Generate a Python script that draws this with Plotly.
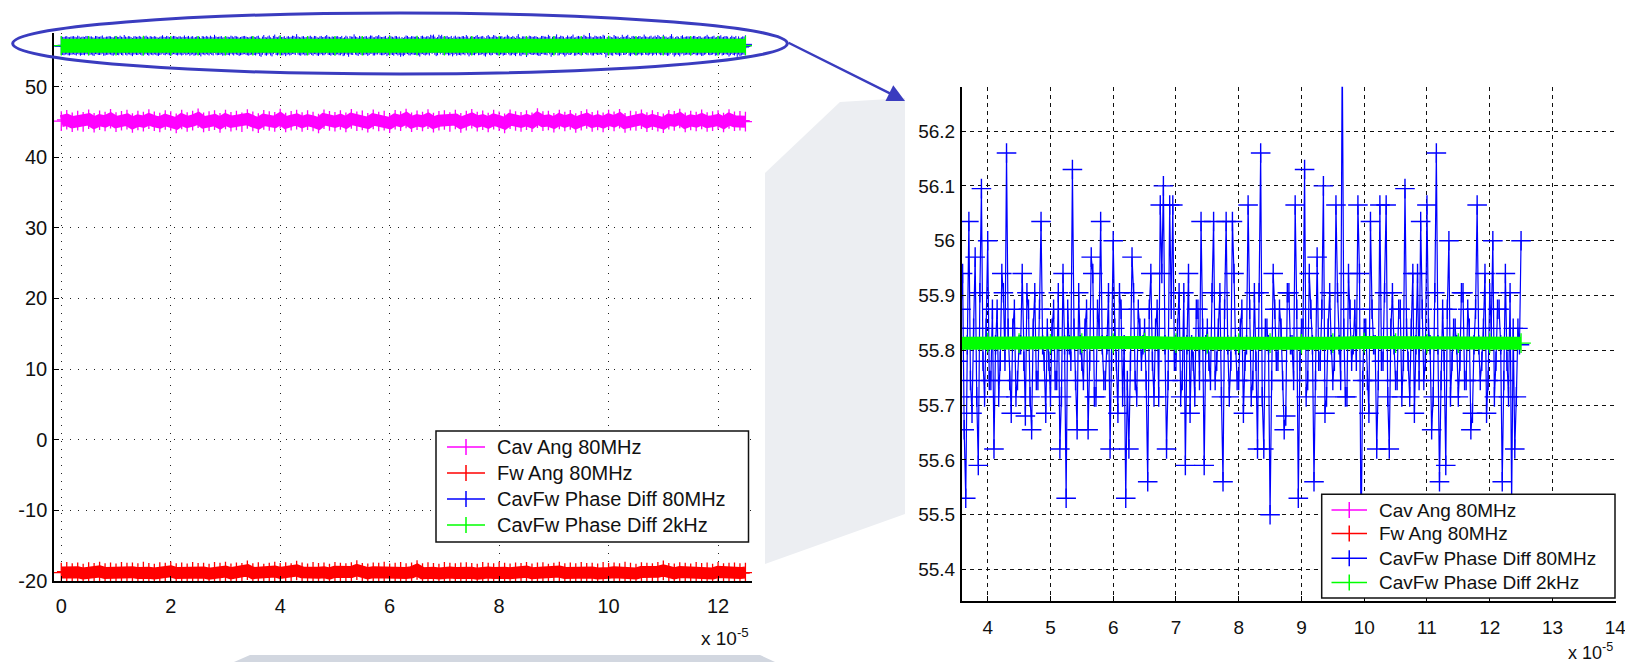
import numpy as np
import plotly.graph_objects as go

W, H = 1625, 662
FONT = "Liberation Sans, Arial, Helvetica, sans-serif"

# ---------------- data (time in units of 1e-5 s) ----------------
T_END = 12.5

cav_ang_80mhz = [
    45.13, 45.31, 44.96, 45.20, 45.02, 45.38, 44.90, 45.25, 45.08, 45.45, 44.98, 45.17, 45.33, 44.86,
    45.22, 45.05, 45.40, 45.10, 44.93, 45.28, 45.15, 44.80, 45.35, 45.00, 45.19, 45.52, 44.95, 45.12,
    45.27, 44.88, 45.36, 45.04, 45.21, 44.97, 45.42, 45.09, 44.84, 45.30, 45.14, 45.01, 45.48, 44.92,
    45.18, 45.34, 44.99, 45.26, 45.07, 44.78, 45.39, 45.16, 45.03, 45.29, 44.94, 45.44, 45.11, 45.23,
    44.89, 45.37, 45.06, 45.20, 44.83, 45.32, 45.13, 45.50, 44.96, 45.24, 45.08, 45.41, 44.91, 45.17,
    45.28, 45.00, 45.35, 44.87, 45.19, 45.46, 45.05, 45.25, 44.93, 45.33, 45.10, 44.81, 45.38, 45.15,
    45.02, 45.27, 44.97, 45.55, 45.12, 45.21, 44.90, 45.36, 45.06, 45.30, 44.85, 45.18, 45.43, 45.01,
    45.23, 44.95, 45.34, 45.09, 45.47, 44.88, 45.20, 45.14, 45.39, 44.98, 45.26, 45.04, 44.82, 45.31,
    45.16, 45.49, 44.94, 45.22, 45.07, 45.37, 45.00, 45.13, 45.29, 44.92, 45.42, 45.10, 45.18, 45.05,
]

fw_ang_80mhz = [
    -18.84, -18.72, -18.93, -18.80, -18.98, -18.76, -18.88, -18.69, -18.91, -18.82, -18.95, -18.74, -18.86, -18.79,
    -18.92, -18.70, -18.87, -18.97, -18.77, -18.85, -18.68, -18.90, -18.81, -18.96, -18.73, -18.89, -18.83, -18.99,
    -18.75, -18.86, -18.71, -18.94, -18.80, -18.88, -18.52, -18.92, -18.78, -18.97, -18.84, -18.70, -18.89, -18.76,
    -18.93, -18.55, -18.82, -18.95, -18.74, -18.87, -18.80, -18.98, -18.72, -18.85, -18.91, -18.77, -18.50, -18.88,
    -18.94, -18.79, -18.86, -18.71, -18.96, -18.83, -18.75, -18.90, -18.81, -18.48, -18.93, -18.78, -18.87, -18.97,
    -18.73, -18.85, -18.92, -18.80, -18.76, -18.89, -18.99, -18.74, -18.84, -18.91, -18.70, -18.86, -18.95, -18.79,
    -18.88, -18.72, -18.94, -18.82, -18.77, -18.97, -18.85, -18.71, -18.90, -18.80, -18.93, -18.75, -18.87, -18.83,
    -18.96, -18.74, -18.89, -18.79, -18.92, -18.70, -18.86, -18.98, -18.76, -18.84, -18.91, -18.73, -18.53, -18.88,
    -18.95, -18.78, -18.85, -18.94, -18.72, -18.87, -18.81, -18.97, -18.75, -18.90, -18.83, -18.79, -18.92, -18.84,
]

# CavFw Phase Diff 80MHz: samples at even positions (t = 0, 0.05, ... 12.5)
cavfw_diff_80mhz_even = [
    55.81, 55.745, 55.875, 55.715, 55.84, 55.78, 55.94, 55.685, 55.81, 55.905,
    55.745, 55.84, 55.655, 55.875, 55.78, 55.97, 55.715, 55.81, 55.84, 55.685,
    55.905, 55.745, 55.78, 56.035, 55.715, 55.84, 55.62, 55.875, 55.78, 55.81,
    55.745, 55.94, 55.685, 55.81, 55.875, 55.715, 55.78, 56.0, 55.745, 55.84,
    55.655, 55.905, 55.78, 55.84, 55.715, 55.97, 55.81, 55.685, 55.875, 55.745,
    55.81, 55.59, 55.84, 55.905, 55.715, 55.78, 56.065, 55.745, 55.81, 55.685,
    55.875, 55.78, 55.94, 55.715, 55.84, 55.655, 55.81, 55.905, 55.745, 55.78,
    55.84, 55.715, 55.94, 55.53, 56.035, 55.685, 55.97, 55.59, 56.095, 55.715,
    56.0, 55.745, 55.62, 55.875, 55.78, 55.905, 56.16, 55.745, 55.84, 55.715,
    55.81, 55.94, 55.68, 55.875, 55.655, 55.905, 55.745, 56.035, 55.78, 55.84,
    55.715, 55.875, 55.745, 55.62, 55.94, 55.53, 55.81, 56.13, 55.745, 55.905,
    55.78, 55.84, 55.655, 55.97, 55.715, 55.875, 56.035, 55.745, 55.81, 55.62,
    56.0, 55.78, 55.905, 55.715, 55.53, 55.62, 55.97, 55.745, 55.875, 55.78,
    55.84, 55.56, 55.94, 55.715, 55.875, 56.065, 56.1, 55.62, 56.065, 56.065,
    55.78, 55.905, 55.745, 55.59, 55.94, 55.81, 55.715, 55.875, 56.035, 55.59,
    55.84, 55.745, 56.035, 55.78, 55.905, 55.56, 56.035, 55.715, 56.035, 55.81,
    55.745, 55.875, 55.78, 56.065, 55.715, 55.905, 55.62, 56.16, 55.62, 55.84,
    55.50, 55.94, 55.78, 55.875, 55.745, 55.68, 55.905, 55.81, 56.065, 55.53,
    55.84, 56.13, 55.745, 55.875, 55.56, 55.97, 55.78, 56.1, 55.715, 55.905,
    55.745, 56.065, 55.81, 56.36, 55.715, 55.94, 55.78, 55.875, 56.065, 55.44,
    55.84, 55.745, 56.035, 55.81, 55.62, 56.065, 55.78, 56.065, 55.62, 55.905,
    55.745, 55.875, 55.715, 56.095, 55.78, 55.84, 55.685, 55.94, 56.035, 55.745,
    56.065, 55.81, 55.715, 56.16, 55.56, 55.875, 55.59, 56.0, 55.78, 55.84,
    55.715, 55.905, 55.745, 55.875, 55.655, 55.81, 56.065, 55.745, 55.84, 55.685,
    55.905, 56.0, 55.78, 55.875, 55.56, 55.94, 55.715, 55.52, 55.62, 55.84,
    56.0,
]

# CavFw Phase Diff 80MHz: samples at odd positions (in between the even ones)
cavfw_diff_80mhz_odd = [
    55.78, 55.84, 55.745, 55.81, 55.875, 55.715, 55.84, 55.78, 55.745, 55.875,
    55.81, 55.715, 55.905, 55.78, 55.84, 55.685, 55.81, 55.875, 55.745, 55.84,
    55.78, 55.94, 55.715, 55.81, 55.875, 55.745, 55.84, 55.78, 55.905, 55.715,
    55.84, 55.78, 55.875, 55.745, 55.81, 55.655, 55.84, 55.78, 55.905, 55.745,
    55.81, 55.875, 55.715, 55.84, 55.78, 55.745, 55.905, 55.81, 55.685, 55.84,
    55.78, 55.875, 55.745, 55.81, 55.94, 55.715, 55.84, 55.78, 55.875, 55.745,
    55.81, 55.715, 55.84, 55.905, 55.78, 55.745, 55.875, 55.81, 55.685, 55.84,
    55.78, 55.875, 55.655, 55.81, 55.745, 55.84, 55.715, 55.905, 55.78, 55.84,
    55.745, 55.875, 55.81, 55.715, 55.94, 55.78, 55.84, 55.685, 55.875, 55.745,
    55.81, 55.78, 55.905, 55.715, 55.84, 55.745, 55.875, 55.81, 55.685, 55.78,
    55.84, 55.745, 55.905, 55.715, 55.81, 55.875, 55.78, 55.84, 55.655, 55.81,
    55.745, 55.875, 55.78, 55.94, 55.715, 55.84, 55.81, 55.745, 55.905, 55.78,
    55.84, 55.685, 55.875, 55.81, 55.745, 55.78, 55.905, 55.715, 55.84, 55.81,
    55.745, 55.875, 55.78, 55.84, 55.715, 55.94, 55.81, 55.745, 55.875, 55.78,
    55.84, 55.715, 55.905, 55.81, 55.685, 55.78, 55.875, 55.745, 55.84, 55.81,
    55.78, 55.905, 55.745, 55.84, 55.715, 55.875, 55.81, 55.78, 55.94, 55.745,
    55.84, 55.685, 55.81, 55.875, 55.745, 55.78, 55.905, 55.715, 55.84, 55.81,
    55.745, 55.875, 55.78, 55.84, 55.655, 55.905, 55.81, 55.745, 55.875, 55.78,
    55.84, 55.715, 55.94, 55.81, 55.745, 55.78, 55.875, 55.685, 55.84, 55.81,
    55.78, 55.905, 55.745, 55.84, 55.715, 55.875, 55.81, 55.78, 55.94, 55.745,
    55.84, 55.685, 55.875, 55.81, 55.745, 55.78, 55.905, 55.715, 55.84, 55.81,
    55.745, 55.875, 55.78, 55.84, 55.715, 55.94, 55.81, 55.745, 55.875, 55.78,
    55.84, 55.655, 55.905, 55.81, 55.745, 55.78, 55.875, 55.715, 55.84, 55.81,
    55.78, 55.905, 55.745, 55.84, 55.685, 55.875, 55.81, 55.78, 55.94, 55.745,
    55.84, 55.715, 55.875, 55.81, 55.745, 55.78, 55.905, 55.84, 55.715, 55.81,
]

cavfw_diff_2khz = [
    55.813, 55.812, 55.813, 55.814, 55.813, 55.812, 55.813, 55.813, 55.814,
    55.813, 55.812, 55.813, 55.813, 55.814, 55.813, 55.812, 55.813, 55.813,
    55.812, 55.813, 55.814, 55.813, 55.812, 55.813, 55.813, 55.813,
]

series_names = ["Cav Ang 80MHz", "Fw Ang 80MHz", "CavFw Phase Diff 80MHz", "CavFw Phase Diff 2kHz"]
series_colors = ["#ff00ff", "#ff0000", "#0000ff", "#00ff00"]

left_xticks = [0, 2, 4, 6, 8, 10, 12]
left_yticks = [-20, -10, 0, 10, 20, 30, 40, 50]
left_yticklabels = ["-20", "-10", "0", "10", "20", "30", "40", "50"]
right_xticks = [4, 5, 6, 7, 8, 9, 10, 11, 12, 13, 14]
right_yticks = [55.4, 55.5, 55.6, 55.7, 55.8, 55.9, 56.0, 56.1, 56.2]
right_yticklabels = ["55.4", "55.5", "55.6", "55.7", "55.8", "55.9", "56", "56.1", "56.2"]

# full 80 MHz phase-difference record (even/odd samples merged in time order)
cavfw_diff_80mhz = []
for k, v in enumerate(cavfw_diff_80mhz_even):
    cavfw_diff_80mhz.append(v)
    if k < len(cavfw_diff_80mhz_odd):
        cavfw_diff_80mhz.append(cavfw_diff_80mhz_odd[k])


def tgrid(vals):
    return np.linspace(0.0, T_END, len(vals))


def px(x):
    return x / W


def py(y):
    return 1 - y / H


fig = go.Figure()


def cross(color, size=14, lw=1.3):
    return dict(symbol="cross-thin", size=size, line=dict(color=color, width=lw), color=color)


# ---------------- left (full view) ----------------
fig.add_trace(go.Scatter(x=tgrid(cav_ang_80mhz), y=cav_ang_80mhz, mode="lines+markers",
                         line=dict(color=series_colors[0], width=12), marker=cross(series_colors[0]),
                         xaxis="x", yaxis="y", showlegend=False, name=series_names[0]))
fig.add_trace(go.Scatter(x=tgrid(fw_ang_80mhz), y=fw_ang_80mhz, mode="lines+markers",
                         line=dict(color=series_colors[1], width=12), marker=cross(series_colors[1]),
                         xaxis="x", yaxis="y", showlegend=False, name=series_names[1]))
fig.add_trace(go.Scatter(x=tgrid(cavfw_diff_80mhz), y=cavfw_diff_80mhz, mode="lines+markers",
                         line=dict(color=series_colors[2], width=1), marker=cross(series_colors[2], 13, 1.0),
                         xaxis="x", yaxis="y", showlegend=False, name=series_names[2]))
fig.add_trace(go.Scatter(x=tgrid(cavfw_diff_2khz), y=cavfw_diff_2khz, mode="lines+markers",
                         line=dict(color=series_colors[3], width=14), marker=cross(series_colors[3]),
                         xaxis="x", yaxis="y", showlegend=False, name=series_names[3]))

# ---------------- right (zoomed view) ----------------
fig.add_trace(go.Scatter(x=tgrid(cavfw_diff_80mhz), y=cavfw_diff_80mhz, mode="lines+markers",
                         line=dict(color=series_colors[2], width=1.2), marker=cross(series_colors[2], 14, 1.4),
                         xaxis="x2", yaxis="y2", showlegend=False, name=series_names[2]))
fig.add_trace(go.Scatter(x=tgrid(cavfw_diff_2khz), y=cavfw_diff_2khz, mode="lines+markers",
                         line=dict(color=series_colors[3], width=13), marker=cross(series_colors[3]),
                         xaxis="x2", yaxis="y2", showlegend=False, name=series_names[3]))

tickfont_l = dict(family=FONT, size=20, color="#111")
tickfont_r = dict(family=FONT, size=19, color="#111")

common = dict(showline=True, linecolor="#000", linewidth=1.5, ticks="inside", ticklen=5,
              tickcolor="#000", zeroline=False, showgrid=True, gridwidth=1, mirror=False,
              ticklabeloverflow="allow", automargin=False)

fig.update_layout(
    width=W, height=H, autosize=False,
    margin=dict(l=0, r=0, t=0, b=0, pad=0),
    paper_bgcolor="#ffffff", plot_bgcolor="#ffffff",
    showlegend=False,
    xaxis=dict(domain=[px(54), px(752)], range=[-0.133, 12.62], tickvals=left_xticks,
               tickfont=tickfont_l, gridcolor="#222", griddash="1px,7px", anchor="y",
               ticklabelstandoff=6, **common),
    yaxis=dict(domain=[py(581), py(33)], range=[-20.04, 57.61], tickvals=left_yticks,
               ticktext=left_yticklabels,
               tickfont=tickfont_l, gridcolor="#222", griddash="1px,7px", anchor="x",
               ticklabelstandoff=1, **common),
    xaxis2=dict(domain=[px(961.7), px(1615.5)], range=[3.5855, 14.005], tickvals=right_xticks,
                tickfont=tickfont_r, gridcolor="#111", griddash="4px,4px", anchor="y2",
                ticklabelstandoff=8, **common),
    yaxis2=dict(domain=[py(601), py(86.7)], range=[55.3425, 56.281], tickvals=right_yticks,
                ticktext=right_yticklabels, tickfont=tickfont_r, gridcolor="#111",
                griddash="4px,4px", anchor="x2", ticklabelstandoff=1, **common),
)

shapes = []
annotations = []

# background slide decorations
shapes.append(dict(type="path", xref="paper", yref="paper", layer="below",
                   path=f"M {px(765)},{py(173)} L {px(840)},{py(102)} L {px(905)},{py(98)} "
                        f"L {px(905)},{py(514)} L {px(765)},{py(564)} Z",
                   fillcolor="#eceef2", line=dict(width=0)))
shapes.append(dict(type="path", xref="paper", yref="paper", layer="below",
                   path=f"M {px(234)},{py(662)} L {px(250)},{py(655)} L {px(760)},{py(655)} "
                        f"L {px(775)},{py(662)} Z",
                   fillcolor="#d2d7e0", line=dict(width=0)))

# ellipse + arrow annotation
ELL = "#3a3cbf"
shapes.append(dict(type="circle", xref="paper", yref="paper", layer="above",
                   x0=px(12.7), x1=px(787.3), y0=py(74), y1=py(13),
                   line=dict(color=ELL, width=3)))
annotations.append(dict(xref="paper", yref="paper", x=px(905), y=py(101), ax=787 - 905, ay=42 - 101,
                        text="", showarrow=True, arrowhead=2, arrowsize=1.4, arrowwidth=2.5,
                        arrowcolor=ELL, standoff=0, startstandoff=0))


def draw_legend(box, x_line, x_text, ys, fsize):
    x0, y0, x1, y1 = box
    shapes.append(dict(type="rect", xref="paper", yref="paper", layer="above",
                       x0=px(x0), x1=px(x1), y0=py(y1), y1=py(y0),
                       fillcolor="#ffffff", line=dict(color="#111", width=1.5)))
    lx0, lx1 = x_line
    cx = (lx0 + lx1) / 2
    for name, color, yy in zip(series_names, series_colors, ys):
        shapes.append(dict(type="line", xref="paper", yref="paper", layer="above",
                           x0=px(lx0), x1=px(lx1), y0=py(yy), y1=py(yy),
                           line=dict(color=color, width=1.5)))
        shapes.append(dict(type="line", xref="paper", yref="paper", layer="above",
                           x0=px(cx), x1=px(cx), y0=py(yy - 8), y1=py(yy + 8),
                           line=dict(color=color, width=1.5)))
        annotations.append(dict(xref="paper", yref="paper", x=px(x_text), y=py(yy),
                                xanchor="left", yanchor="middle", showarrow=False, text=name,
                                font=dict(family=FONT, size=fsize, color="#111")))


draw_legend((436, 431, 748.5, 542), (447, 485), 495, [447, 473, 499, 525], 20)
draw_legend((1321.7, 494.3, 1615, 598), (1331.5, 1367), 1377, [510, 533.5, 558.3, 582.5], 19)

# axis exponent labels
annotations.append(dict(xref="paper", yref="paper", x=px(751), y=py(651), xanchor="right", yanchor="bottom",
                        showarrow=False, text="x 10<sup>-5</sup>",
                        font=dict(family=FONT, size=19, color="#111")))
annotations.append(dict(xref="paper", yref="paper", x=px(1615), y=py(665), xanchor="right", yanchor="bottom",
                        showarrow=False, text="x 10<sup>-5</sup>",
                        font=dict(family=FONT, size=18, color="#111")))

fig.update_layout(shapes=shapes, annotations=annotations)

fig.write_html("out.html")
